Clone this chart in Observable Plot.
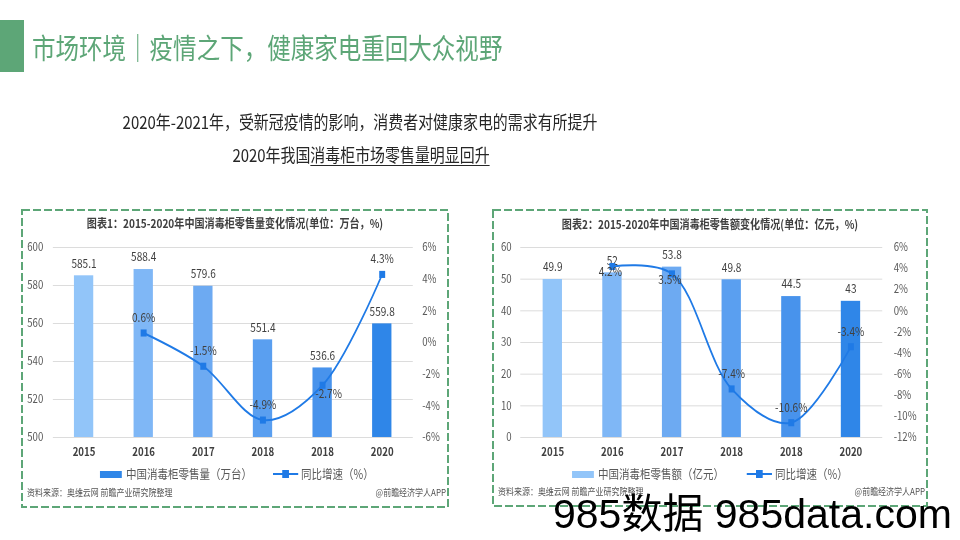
<!DOCTYPE html>
<html>
<head>
<meta charset="utf-8">
<script src="https://cdn.jsdelivr.net/npm/d3@7"></script>
<script src="https://cdn.jsdelivr.net/npm/@observablehq/plot@0.6"></script>
<style>
  html, body { margin: 0; padding: 0; background: #fff; }
  #page { position: relative; width: 960px; height: 540px; overflow: hidden; background: #fff;
          font-family: "Noto Sans CJK SC", "Noto Sans", sans-serif; }
  #wrap { position: absolute; left: 0; top: 0; height: 540px; transform-origin: 0 0; }
  .abs { position: absolute; white-space: nowrap; }
  #wrap svg g[aria-label="x-axis tick label"] text { font-weight: bold; fill: #404040; }
</style>
</head>
<body>
<div id="page">
  <svg id="deco" width="960" height="540" style="position:absolute;left:0;top:0"></svg>
  <div id="wrap"></div>
  <svg id="mark" width="960" height="540" style="position:absolute;left:0;top:0;pointer-events:none"></svg>
</div>
<script>
// ---------- data ----------
const years = ["2015", "2016", "2017", "2018", "2018", "2020"];
const volume = [585.1, 588.4, 579.6, 551.4, 536.6, 559.8];          // 万台
const volumeGrowth = [null, 0.6, -1.5, -4.9, -2.7, 4.3];           // %
const sales = [49.9, 52, 53.8, 49.8, 44.5, 43];                    // 亿元
const salesGrowth = [null, 4.2, 3.5, -7.4, -10.6, -3.4];           // %
const volumeTicks = [500, 520, 540, 560, 580, 600];
const volumeGrowthTicks = [-6, -4, -2, 0, 2, 4, 6];
const salesTicks = [0, 10, 20, 30, 40, 50, 60];
const salesGrowthTicks = [-12, -10, -8, -6, -4, -2, 0, 2, 4, 6];

const pageTitle = "市场环境｜疫情之下，健康家电重回大众视野";
const subLine1 = "2020年-2021年，受新冠疫情的影响，消费者对健康家电的需求有所提升";
const subLine2a = "2020年我国";
const subLine2b = "消毒柜市场零售量明显回升";
const chart1Title = "图表1：2015-2020年中国消毒柜零售量变化情况(单位：万台，%)";
const chart2Title = "图表2：2015-2020年中国消毒柜零售额变化情况(单位：亿元，%)";
const legend1Bar = "中国消毒柜零售量（万台）";
const legend2Bar = "中国消毒柜零售额（亿元）";
const legendLine = "同比增速（%）";
const sourceText = "资料来源：奥维云网 前瞻产业研究院整理";
const creditText = "@前瞻经济学人APP";
const stampText = "985数据 985data.com";

// ---------- styles ----------
const S = 0.84; // horizontal squeeze of the reference
const barColors = ["#92c5f9", "#7fb7f6", "#6daaf2", "#5a9ff0", "#4893ec", "#2f86e8"];
const lineColor = "#1f7ae6";
const green = "#5da677";
const FONT = '"Noto Sans CJK SC", "Noto Sans", sans-serif';

const wrap = document.getElementById("wrap");
wrap.style.width = (960 / S) + "px";
wrap.style.transform = `scaleX(${S})`;

function addText(txt, x, yc, size, color, opts = {}) {
  const d = document.createElement("div");
  d.className = "abs";
  d.textContent = txt;
  d.style.fontSize = size + "px";
  d.style.lineHeight = size + "px";
  d.style.color = color;
  d.style.top = (yc - size / 2) + "px";
  if (opts.weight) d.style.fontWeight = opts.weight;
  if (opts.align === "center") {
    d.style.left = (x / S - 400) + "px"; d.style.width = "800px"; d.style.textAlign = "center";
  } else if (opts.align === "right") {
    d.style.left = (x / S - 800) + "px"; d.style.width = "800px"; d.style.textAlign = "right";
  } else {
    d.style.left = (x / S) + "px";
  }
  wrap.appendChild(d);
  return d;
}

// header
addText(pageTitle, 32, 47, 28, green);
addText(subLine1, 360, 122, 17.8, "#262626", {align: "center"});
const l2 = addText("", 361, 155, 17.8, "#262626", {align: "center"});
l2.innerHTML = `${subLine2a}<span style="text-decoration:underline;text-underline-offset:3px;text-decoration-thickness:1px">${subLine2b}</span>`;

// chart titles
addText(chart1Title, 235, 223, 12, "#404040", {align: "center", weight: "bold"});
addText(chart2Title, 710, 224, 12, "#404040", {align: "center", weight: "bold"});

function makeChart({values, growth, yDomain, yTicks, gDomain, gTicks, width, marginLeft, marginRight,
                    padL, padR, below, belowDy, belowDx}) {
  const rows = values.map((v, i) => ({i, v, g: growth[i]}));
  const gRows = rows.filter(d => d.g != null);
  const toY = g => yDomain[0] + (g - gDomain[0]) / (gDomain[1] - gDomain[0]) * (yDomain[1] - yDomain[0]);
  const fromY = y => Math.round(gDomain[0] + (y - yDomain[0]) / (yDomain[1] - yDomain[0]) * (gDomain[1] - gDomain[0]));
  const idx = d3.range(values.length);
  return Plot.plot({
    width: width / S, height: 223,
    marginTop: 10, marginBottom: 23, marginLeft: marginLeft / S, marginRight: marginRight / S,
    style: {fontFamily: FONT, fontSize: "11.5px", color: "#595959", background: "transparent", overflow: "visible"},
    x: {domain: idx, paddingInner: 0.67, paddingOuter: 0.335},
    y: {domain: yDomain},
    marks: [
      Plot.gridY(yTicks, {stroke: "#d9d9d9", strokeOpacity: 1, strokeWidth: 1}),
      Plot.barY(rows, {x: "i", y1: yDomain[0], y2: "v", fill: d => barColors[d.i]}),
      Plot.text(rows, {x: "i", y: "v", text: d => String(d.v), dy: -12, fill: "#404040", fontSize: 12}),
      Plot.line(gRows, {x: "i", y: d => toY(d.g), curve: "catmull-rom", stroke: lineColor, strokeWidth: 2}),
      Plot.dot(gRows, {x: "i", y: d => toY(d.g), symbol: "square", r: 4, fill: lineColor, stroke: null}),
      Plot.text(gRows.filter(d => !below.includes(d.i)), {x: "i", y: d => toY(d.g), text: d => d.g + "%", dy: -15, fill: "#404040", fontSize: 12}),
      Plot.text(gRows.filter(d => below.includes(d.i)), {x: "i", y: d => toY(d.g), text: d => d.g + "%", dy: belowDy, dx: belowDx / S, fill: "#404040", fontSize: 12}),
      Plot.axisY(yTicks, {anchor: "left", tickSize: 0, tickPadding: padL / S, label: null, fill: "#595959"}),
      Plot.axisY(gTicks.map(toY), {anchor: "right", tickSize: 0, tickPadding: padR / S, label: null,
                                   tickFormat: v => fromY(v) + "%", fill: "#595959"}),
      Plot.axisX(idx, {tickSize: 0, tickPadding: 10, label: null, tickFormat: i => years[i], fontWeight: "bold", fill: "#404040"})
    ]
  });
}

function place(node, x, y) {
  node.style.position = "absolute";
  node.style.left = (x / S) + "px";
  node.style.top = y + "px";
  wrap.appendChild(node);
}

place(makeChart({
  values: volume, growth: volumeGrowth, yDomain: [500, 600], yTicks: volumeTicks,
  gDomain: [-6, 6], gTicks: volumeGrowthTicks, width: 426, marginLeft: 31, marginRight: 35,
  padL: 10, padR: 9, below: [4], belowDy: 9, belowDx: 6
}), 22, 237);

place(makeChart({
  values: sales, growth: salesGrowth, yDomain: [0, 60], yTicks: salesTicks,
  gDomain: [-12, 6], gTicks: salesGrowthTicks, width: 435, marginLeft: 28, marginRight: 45,
  padL: 9, padR: 11, below: [1, 2], belowDy: 6, belowDx: -2
}), 492, 237);

// legends
function legend(barX, barColor, barLabel, lineX) {
  const sw = document.createElement("div");
  sw.className = "abs";
  Object.assign(sw.style, {left: (barX / S) + "px", top: "471px", width: (22 / S) + "px", height: "7px", background: barColor});
  wrap.appendChild(sw);
  addText(barLabel, barX + 26, 474, 12.5, "#595959");
  const ln = document.createElement("div");
  ln.className = "abs";
  Object.assign(ln.style, {left: (lineX / S) + "px", top: "473px", width: (25 / S) + "px", height: "2px", background: lineColor});
  wrap.appendChild(ln);
  const sq = document.createElement("div");
  sq.className = "abs";
  Object.assign(sq.style, {left: ((lineX + 9) / S) + "px", top: "470px", width: (7 / S) + "px", height: "8px", background: lineColor});
  wrap.appendChild(sq);
  addText(legendLine, lineX + 28, 474, 12.5, "#595959");
}
legend(100, barColors[5], legend1Bar, 273);
legend(572, barColors[0], legend2Bar, 747);

// sources
addText(sourceText, 27, 493, 9.5, "#555");
addText(creditText, 446, 493, 9.5, "#555", {align: "right"});
addText(sourceText, 498, 492, 9.5, "#555");
addText(creditText, 925, 492, 9.5, "#555", {align: "right"});

// decorations (unsqueezed)
const deco = d3.select("#deco");
deco.append("rect").attr("x", 0).attr("y", 20).attr("width", 24).attr("height", 52).attr("fill", green);
[[22, 210, 448, 507], [493, 210, 927, 506]].forEach(([x0, y0, x1, y1]) => {
  deco.append("rect").attr("x", x0).attr("y", y0).attr("width", x1 - x0).attr("height", y1 - y0)
    .attr("fill", "none").attr("stroke", green).attr("stroke-width", 2).attr("stroke-dasharray", "8 3");
});

d3.select("#mark").append("text").attr("x", 553).attr("y", 528)
  .attr("font-family", '"Liberation Sans", Arial, "Noto Sans CJK SC", sans-serif')
  .attr("font-size", 41).attr("fill", "#000").text(stampText);
</script>
</body>
</html>
